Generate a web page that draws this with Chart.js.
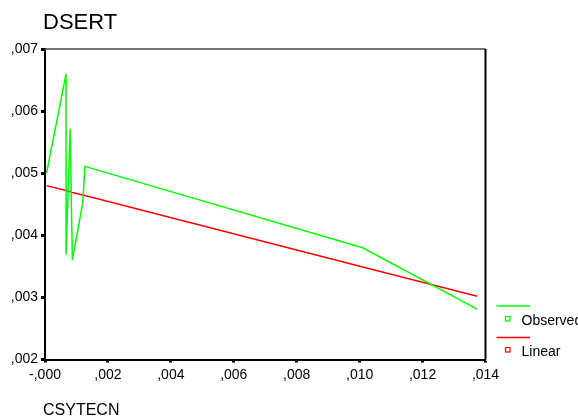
<!DOCTYPE html>
<html>
<head>
<meta charset="utf-8">
<script src="https://cdn.jsdelivr.net/npm/chart.js@4/dist/chart.umd.min.js"></script>
<style>
html,body{margin:0;padding:0;background:#fff;}
#wrap{position:relative;width:578px;height:420px;}
</style>
</head>
<body>
<div id="wrap"><canvas id="c" width="578" height="420"></canvas></div>
<script>
// ---- data ----
const chartTitle = 'DSERT';
const xAxisTitle = 'CSYTECN';
const seriesNames = ['Observed', 'Linear'];
const obsX = [0.00005, 0.00067, 0.00067, 0.00080, 0.00087, 0.00120, 0.00127, 0.01010, 0.01374];
const obsY = [0.00500, 0.00660, 0.00369, 0.00571, 0.00360, 0.00452, 0.00511, 0.00380, 0.00281];
const linY = [0.00480, 0.00472, 0.00472, 0.00470, 0.00469, 0.00465, 0.00464, 0.00349, 0.00302];
const xTickValues = [0, 0.002, 0.004, 0.006, 0.008, 0.010, 0.012, 0.014];
const xTickLabels = ['-,000', ',002', ',004', ',006', ',008', ',010', ',012', ',014'];
const yTickValues = [0.002, 0.003, 0.004, 0.005, 0.006, 0.007];
const yTickLabels = [',002', ',003', ',004', ',005', ',006', ',007'];

const GREEN = '#00ff00';
const RED = '#ff0000';
const FONT = "'Liberation Sans', Arial, sans-serif";

Chart.defaults.font.family = FONT;
Chart.defaults.color = '#000';

function labelFor(values, labels, v) {
  let best = 0;
  for (let i = 1; i < values.length; i++) {
    if (Math.abs(values[i] - v) < Math.abs(values[best] - v)) best = i;
  }
  return labels[best];
}

const frame = {
  id: 'frame',
  afterDatasetsDraw(chart) {
    const {ctx, chartArea: a} = chart;
    ctx.save();
    ctx.lineWidth = 1.5;
    ctx.strokeStyle = '#444';
    ctx.beginPath(); ctx.moveTo(a.left, a.top); ctx.lineTo(a.right, a.top); ctx.stroke();
    ctx.strokeStyle = '#000';
    ctx.lineWidth = 2;
    ctx.beginPath(); ctx.moveTo(a.right, a.top); ctx.lineTo(a.right, a.bottom); ctx.stroke();
    ctx.restore();
  },
  afterDraw(chart) {
    const ctx = chart.ctx;
    ctx.save();
    ctx.fillStyle = '#000';
    ctx.textBaseline = 'alphabetic';
    ctx.textAlign = 'left';
    ctx.font = '22px ' + FONT;
    ctx.fillText(chartTitle, 43, 29);
    ctx.font = '16px ' + FONT;
    ctx.fillText(xAxisTitle, 43, 415);
    // legend
    const items = [
      {color: GREEN, lineY: 306, boxY: 319, textY: 325, name: seriesNames[0]},
      {color: RED, lineY: 337.5, boxY: 350, textY: 356, name: seriesNames[1]}
    ];
    ctx.font = '14px ' + FONT;
    items.forEach(it => {
      ctx.strokeStyle = it.color;
      ctx.lineWidth = 1.5;
      ctx.beginPath(); ctx.moveTo(496.5, it.lineY); ctx.lineTo(530, it.lineY); ctx.stroke();
      ctx.lineWidth = 1.2;
      ctx.strokeRect(505.5, it.boxY - 2.5, 4.5, 4.5);
      ctx.fillStyle = '#000';
      ctx.fillText(it.name, 521.5, it.textY);
    });
    ctx.restore();
  }
};

new Chart(document.getElementById('c'), {
  type: 'line',
  data: {
    datasets: [
      {
        label: seriesNames[0],
        data: obsX.map((x, i) => ({x, y: obsY[i]})),
        borderColor: GREEN, borderWidth: 1.5, pointRadius: 0, tension: 0, fill: false
      },
      {
        label: seriesNames[1],
        data: obsX.map((x, i) => ({x, y: linY[i]})),
        borderColor: RED, borderWidth: 1.5, pointRadius: 0, tension: 0, fill: false
      }
    ]
  },
  plugins: [frame],
  options: {
    responsive: false,
    animation: false,
    devicePixelRatio: 1,
    layout: {padding: {left: 0, top: 49, right: 92.5, bottom: 0}},
    plugins: {legend: {display: false}, title: {display: false}, tooltip: {enabled: false}},
    scales: {
      x: {
        type: 'linear',
        min: 0, max: 0.014,
        afterFit(s) { s.height = 60.5; },
        afterBuildTicks(s) { s.ticks = xTickValues.map(v => ({value: v})); },
        grid: {drawOnChartArea: false, tickLength: 3, tickWidth: 3, tickColor: '#000'},
        border: {color: '#000', width: 2},
        ticks: {
          padding: 4, color: '#000', font: {size: 14}, maxRotation: 0, autoSkip: false,
          callback: v => labelFor(xTickValues, xTickLabels, v)
        }
      },
      y: {
        type: 'linear',
        min: 0.002, max: 0.007,
        afterFit(s) { s.width = 45; },
        afterBuildTicks(s) { s.ticks = yTickValues.map(v => ({value: v})); },
        grid: {drawOnChartArea: false, tickLength: 4, tickWidth: 3, tickColor: '#000'},
        border: {color: '#000', width: 2},
        ticks: {
          padding: 3, color: '#000', font: {size: 14}, autoSkip: false,
          callback: v => labelFor(yTickValues, yTickLabels, v)
        }
      }
    }
  }
});
</script>
</body>
</html>
